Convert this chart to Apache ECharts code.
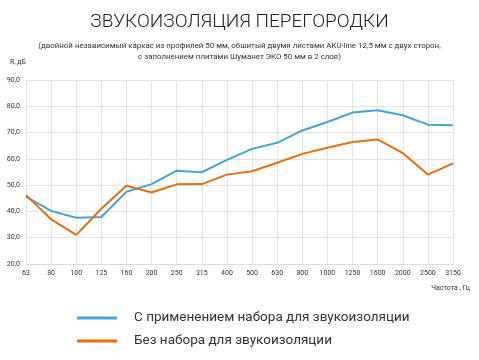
<!DOCTYPE html>
<html><head><meta charset="utf-8">
<script src="https://cdn.jsdelivr.net/npm/echarts@6/dist/echarts.min.js"></script>
<style>html,body{margin:0;padding:0;background:#fff}#c{width:479px;height:360px}</style>
</head><body><div id="c"></div>
<script>
const categories = ['63','80','100','125','160','200','250','315','400','500','630','800','1000','1250','1600','2000','2500','3150'];
const withKit = [45.6,40.2,37.6,37.9,47.5,50.4,55.5,54.9,59.6,63.8,66.1,70.8,74.0,77.6,78.5,76.6,73.0,72.8];
const withoutKit = [46.2,37.0,31.1,41.0,49.8,47.2,50.3,50.4,54.0,55.3,58.5,61.9,64.2,66.4,67.4,62.2,54.0,58.3];
const seriesNames = ['С применением набора для звукоизоляции','Без набора для звукоизоляции'];
const titleText = 'ЗВУКОИЗОЛЯЦИЯ ПЕРЕГОРОДКИ';
const subText = '(двойной независимый каркас из профилей 50 мм, обшитый двумя листами AKU-line 12,5 мм с двух сторон,\nс заполнением плитами Шуманет ЭКО 50 мм в 2 слоя)';

const chart = echarts.init(document.getElementById('c'));
const font = 'Roboto, "Noto Sans", sans-serif';
chart.setOption({
  animation: false,
  textStyle: {fontFamily: font},
  title: {
    text: titleText, subtext: subText, left: 'center', top: 8, itemGap: 9,
    textStyle: {fontSize: 19, fontWeight: 300, color: '#222', fontFamily: font},
    subtextStyle: {fontSize: 7.9, color: '#333', lineHeight: 11, fontFamily: font}
  },
  grid: {left: 26, right: 26, top: 80, bottom: 96},
  legend: {
    orient: 'vertical', left: 72, top: 306, itemWidth: 40, itemHeight: 3, itemGap: 9,
    icon: 'rect',
    textStyle: {fontSize: 13.5, color: '#333', padding: [0,0,0,12], fontFamily: font},
    data: seriesNames
  },
  xAxis: {
    type: 'category', data: categories, boundaryGap: false,
    axisLine: {show: true, lineStyle: {color: '#ddd'}},
    axisTick: {show: false},
    axisLabel: {fontSize: 7, color: '#333', margin: 6, interval: 0},
    splitLine: {show: true, lineStyle: {color: '#e3e3e3'}}
  },
  yAxis: {
    type: 'value', min: 20, max: 90, interval: 10,
    name: 'R, дБ', nameLocation: 'end', nameGap: 14,
    nameTextStyle: {fontSize: 7, color: '#333', align: 'right', padding: [0, 0, 0, 0]},
    axisLine: {show: false}, axisTick: {show: false},
    axisLabel: {fontSize: 7, color: '#333', margin: 6, formatter: v => v.toFixed(1).replace('.', ',')},
    splitLine: {show: true, lineStyle: {color: '#e3e3e3'}}
  },
  graphic: [{
    type: 'text', right: 9, top: 285,
    style: {text: 'Частота , Гц', fontSize: 7, fill: '#333', fontFamily: font}
  }],
  series: [
    {name: seriesNames[0], type: 'line', data: withKit, symbol: 'none',
     lineStyle: {width: 2, color: '#44a3d9'}, itemStyle: {color: '#44a3d9'}},
    {name: seriesNames[1], type: 'line', data: withoutKit, symbol: 'none',
     lineStyle: {width: 2, color: '#e56f12'}, itemStyle: {color: '#e56f12'}}
  ]
});
</script></body></html>
